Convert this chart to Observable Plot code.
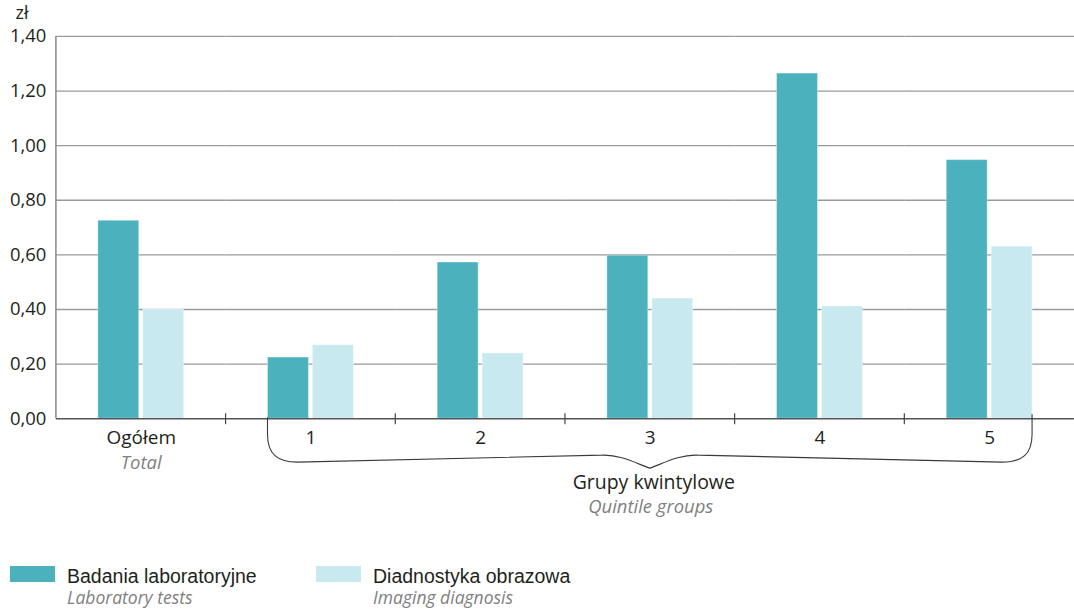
<!DOCTYPE html>
<html>
<head>
<meta charset="utf-8">
<script src="https://cdn.jsdelivr.net/npm/d3@7"></script>
<script src="https://cdn.jsdelivr.net/npm/@observablehq/plot@0.6"></script>
<style>
  html, body { margin: 0; padding: 0; background: #fff; overflow: hidden; }
  #wrap { position: relative; width: 1074px; height: 609px; overflow: hidden; }
  #chart { width: 1074px; overflow: hidden; }
  #legend { position: relative; width: 1074px; height: 64px; }
  .item { position: absolute; top: 0; }
  .sw { position: absolute; top: 22px; width: 45px; height: 16px; }
  .pl { position: absolute; top: 21px; white-space: nowrap; font-family: "Liberation Sans", Arial, sans-serif; font-size: 19.5px; line-height: 22px; color: #231f20; }
  .en { position: absolute; top: 44px; white-space: nowrap; font-family: "Open Sans", sans-serif; font-style: italic; font-size: 17.5px; line-height: 19px; color: #808080; }
</style>
</head>
<body>
<div id="wrap"><div id="chart"></div><div id="legend"></div></div>
<script>
const categories = ["Ogółem", "1", "2", "3", "4", "5"];
const subLabels = ["Total", "", "", "", "", ""];
const seriesKeys = ["Badania laboratoryjne", "Diadnostyka obrazowa"];
const seriesEn = ["Laboratory tests", "Imaging diagnosis"];
const labValues = [0.725, 0.224, 0.572, 0.597, 1.264, 0.947];
const imgValues = [0.40, 0.269, 0.239, 0.44, 0.411, 0.63];
const yTicks = [0, 0.2, 0.4, 0.6, 0.8, 1.0, 1.2, 1.4];
const colors = ["#4bb1bd", "#c8e9ef"];
const groupLabel = "Grupy kwintylowe";
const groupLabelEn = "Quintile groups";
const unitLabel = "zł";

const data = categories.flatMap((c, i) => [
  {cat: c, series: seriesKeys[0], value: labValues[i]},
  {cat: c, series: seriesKeys[1], value: imgValues[i]}
]);

const font = "'Open Sans', sans-serif";
const ML = 56;

const chart = Plot.plot({
  width: 1076,
  height: 545,
  marginLeft: ML,
  marginRight: 0,
  marginTop: 36,
  marginBottom: 126,
  style: {fontFamily: font, fontSize: "18.5px", color: "#231f20", background: "#fff", overflow: "hidden"},
  fx: {domain: categories, padding: 0, axis: null, label: null},
  x: {domain: seriesKeys, paddingInner: 0.094, paddingOuter: 0.907, axis: null},
  y: {domain: [0, 1.4], ticks: yTicks, tickSize: 0, tickPadding: 10, label: null,
      tickFormat: d => d.toFixed(2).replace(".", ",")},
  color: {domain: seriesKeys, range: colors},
  marks: [
    Plot.ruleY(yTicks.slice(1), {stroke: "#9a9a9a", strokeWidth: 1.3}),
    Plot.barY(data, {fx: "cat", x: "series", y: "value", fill: "series",
                     stroke: "#ffffff", strokeOpacity: 0.35, strokeWidth: 1}),
    Plot.ruleY([0], {stroke: "#555", strokeWidth: 1.5}),
    Plot.text(categories, {fx: d => d, text: d => d, frameAnchor: "bottom", dy: 25,
                           fontSize: 19, fill: "#231f20"}),
    Plot.text(categories, {fx: d => d, text: (d, i) => subLabels[i], frameAnchor: "bottom", dy: 50,
                           fontSize: 18.5, fontStyle: "italic", fill: "#808080"})
  ]
});
document.getElementById("chart").appendChild(chart);

// Decorations using the chart's own scales
const svg = d3.select(chart);
const fxS = chart.scale("fx");
const xS = chart.scale("x");
const yS = chart.scale("y");
const fxAt = c => fxS.apply(c);
const xOff = k => xS.apply(k) - Math.min(...xS.range);
const y0 = yS.apply(0), yTop = yS.apply(1.4);
const g = svg.append("g");

// left axis line
const leftX = fxAt(categories[0]);
g.append("line").attr("x1", leftX).attr("x2", leftX).attr("y1", yTop).attr("y2", y0)
  .attr("stroke", "#8a8a8a").attr("stroke-width", 1.5);

// boundary ticks between categories
categories.slice(1).forEach(c => {
  const bx = fxAt(c);
  g.append("line").attr("x1", bx).attr("x2", bx).attr("y1", y0 - 5).attr("y2", y0 + 6)
    .attr("stroke", "#444").attr("stroke-width", 1.2);
});

// brace under quintile groups
const L = fxAt(categories[1]) + xOff(seriesKeys[0]);
const R = fxAt(categories[5]) + xOff(seriesKeys[1]) + xS.bandwidth;
const M = (L + R) / 2;
const yEnd = y0 + 44, ySh = y0 + 37, ytip = y0 + 50;
const p = d3.path();
p.moveTo(L, y0 - 1);
p.lineTo(L, y0 + 16);
p.bezierCurveTo(L, y0 + 36, L + 10, yEnd, L + 30, yEnd);
p.lineTo(M - 48, ySh);
p.bezierCurveTo(M - 30, ySh - 1, M - 12, ytip - 4, M, ytip);
p.bezierCurveTo(M + 12, ytip - 4, M + 30, ySh - 1, M + 48, ySh);
p.lineTo(R - 30, yEnd);
p.bezierCurveTo(R - 10, yEnd, R, y0 + 36, R, y0 + 16);
p.lineTo(R, y0 - 4);
g.append("path").attr("d", p.toString()).attr("fill", "none")
  .attr("stroke", "#3a3a3a").attr("stroke-width", 1.1);

g.append("text").attr("x", M + 4).attr("y", y0 + 71).attr("text-anchor", "middle")
  .attr("font-size", 19.5).attr("fill", "#231f20").text(groupLabel);
g.append("text").attr("x", M + 1).attr("y", y0 + 95).attr("text-anchor", "middle")
  .attr("font-size", 18.5).attr("font-style", "italic").attr("fill", "#808080").text(groupLabelEn);

// unit label
g.append("text").attr("x", 22).attr("y", yTop - 17).attr("text-anchor", "middle")
  .attr("font-size", 18).attr("fill", "#231f20").text(unitLabel);

// Legend (HTML below the SVG)
const legend = document.getElementById("legend");
const lx = [10, 316];
seriesKeys.forEach((s, i) => {
  const it = document.createElement("div");
  it.className = "item";
  it.style.left = lx[i] + "px";
  it.innerHTML = `<div class="sw" style="left:0;background:${colors[i]}"></div>
    <div class="pl" style="left:57px">${s}</div>
    <div class="en" style="left:57px">${seriesEn[i]}</div>`;
  legend.appendChild(it);
});
</script>
</body>
</html>
